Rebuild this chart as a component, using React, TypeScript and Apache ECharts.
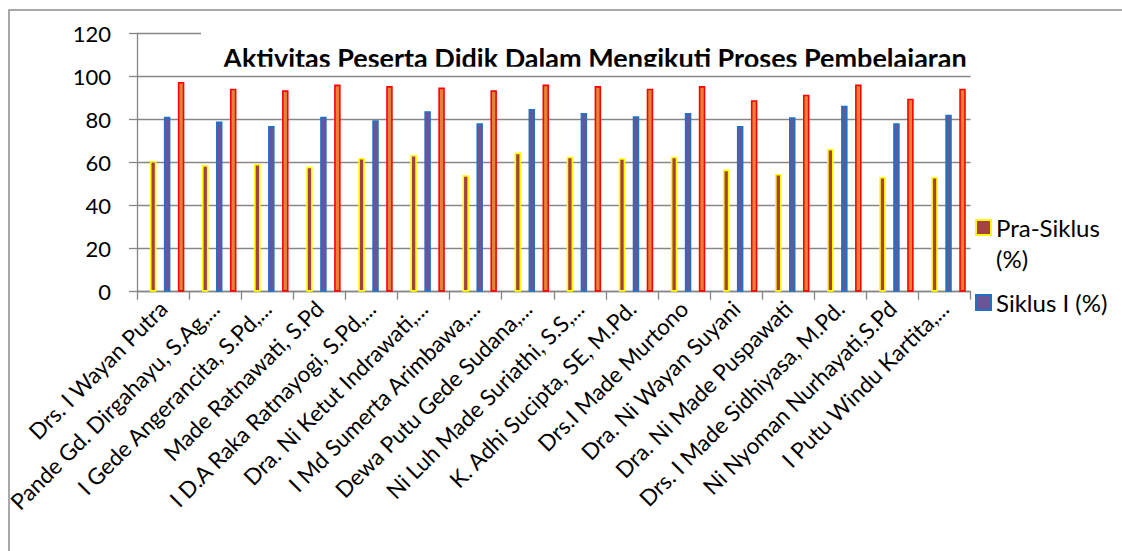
import React, { useEffect, useRef } from "react";
import * as echarts from "echarts";

const categories = [
  "Drs. I Wayan Putra",
  "Pande Gd. Dirgahayu, S.Ag,...",
  "I Gede Angerancita, S.Pd,...",
  "Made Ratnawati, S.Pd",
  "I D.A Raka Ratnayogi, S.Pd,...",
  "Dra. Ni Ketut Indrawati,...",
  "I Md Sumerta Arimbawa,...",
  "Dewa Putu Gede Sudana,...",
  "Ni Luh Made Suriathi, S.S,...",
  "K. Adhi Sucipta, SE, M.Pd.",
  "Drs.I Made Murtono",
  "Dra. Ni Wayan Suyani",
  "Dra. Ni Made Puspawati",
  "Drs. I Made Sidhiyasa, M.Pd.",
  "Ni Nyoman Nurhayati,S.Pd",
  "I Putu Windu Kartita,...",
];

const praSiklus = [60.7, 58.8, 59.3, 58.1, 62.1, 63.5, 54.1, 64.6, 62.7, 62.0, 62.7, 56.7, 54.7, 66.3, 53.3, 53.3];
const siklus1 = [81.3, 79.0, 77.0, 81.3, 79.6, 83.8, 78.2, 84.9, 83.0, 81.5, 83.0, 77.0, 81.0, 86.3, 78.2, 82.2];
const siklus2 = [97.4, 94.3, 93.5, 96.2, 95.5, 94.8, 93.5, 96.2, 95.5, 94.3, 95.5, 88.9, 91.5, 96.2, 89.6, 94.3];

const seriesNames = ["Pra-Siklus (%)", "Siklus I (%)", "Siklus II (%)"];
const yTicks = { min: 0, max: 120, interval: 20 };
const titleText = "Aktivitas Peserta Didik Dalam Mengikuti Proses Pembelajaran";

const FONT = "Lato";
const GRID_COLOR = "#868686";

export default function App() {
  const ref = useRef<HTMLDivElement>(null);

  useEffect(() => {
    document.body.style.margin = "0";
    if (!ref.current) return;
    const chart = echarts.init(ref.current, null, { renderer: "svg" });
    const barW = 6.5;
    const gap = "115%";
    const legendText = { fontSize: 24, lineHeight: 31, color: "#000", fontFamily: FONT };
    const option = {
      animation: false,
      backgroundColor: "#ffffff",
      textStyle: { fontFamily: FONT },
      grid: {
        left: 137,
        top: 33.3,
        right: 151.5,
        bottom: 259.3,
        containLabel: false,
        outerBoundsMode: "none",
      },
      xAxis: {
        type: "category",
        data: categories,
        axisLine: { show: true, lineStyle: { color: GRID_COLOR, width: 1.3 } },
        axisTick: { show: true, length: 8, interval: 0, lineStyle: { color: GRID_COLOR, width: 1.3 } },
        axisLabel: {
          interval: 0,
          rotate: 45,
          fontSize: 22.5,
          color: "#000",
          fontFamily: FONT,
          margin: 13,
        },
      },
      yAxis: {
        type: "value",
        min: yTicks.min,
        max: yTicks.max,
        interval: yTicks.interval,
        axisLine: { show: true, lineStyle: { color: GRID_COLOR, width: 1.3 } },
        axisTick: { show: true, length: 8, lineStyle: { color: GRID_COLOR, width: 1.3 } },
        splitLine: { show: true, lineStyle: { color: GRID_COLOR, width: 1.3 } },
        axisLabel: { fontSize: 22, color: "#000", fontFamily: FONT, margin: 26 },
      },
      legend: [
        {
          orient: "vertical",
          left: 970,
          top: 176,
          itemWidth: 15,
          itemHeight: 15,
          icon: "rect",
          selectedMode: false,
          formatter: () => "\nPra-Siklus\n(%)",
          textStyle: legendText,
          data: [seriesNames[0]],
        },
        {
          orient: "vertical",
          left: 970,
          top: 282,
          itemWidth: 15,
          itemHeight: 15,
          icon: "rect",
          selectedMode: false,
          textStyle: legendText,
          data: [seriesNames[1]],
        },
      ],
      graphic: [
        {
          type: "rect",
          z: 100,
          silent: true,
          shape: { x: 9, y: 10, width: 1300, height: 700 },
          style: { fill: "none", stroke: "#8c8c8c", lineWidth: 1.5 },
        },
        {
          type: "rect",
          z: 101,
          silent: true,
          shape: { x: 201, y: 27, width: 790, height: 40 },
          style: { fill: "#ffffff" },
        },
        {
          type: "text",
          z: 102,
          silent: true,
          x: 595,
          y: 57,
          style: {
            text: titleText,
            fill: "#000",
            font: `bold 27px ${FONT}`,
            textAlign: "center",
            textVerticalAlign: "middle",
          },
        },
        {
          type: "rect",
          z: 103,
          silent: true,
          shape: { x: 201, y: 66.7, width: 775, height: 7.5 },
          style: { fill: "#ffffff" },
        },
      ],
      series: [
        {
          name: "",
          type: "bar",
          data: [],
          barWidth: 3.8,
          barGap: gap,
          silent: true,
        },
        {
          name: seriesNames[0],
          type: "bar",
          data: praSiklus,
          barWidth: barW,
          barGap: gap,
          itemStyle: { color: "#A5413E", borderColor: "#FFFF00", borderWidth: 1.6 },
        },
        {
          name: seriesNames[1],
          type: "bar",
          data: siklus1,
          barWidth: barW,
          barGap: gap,
          itemStyle: { color: "#6A5597", borderColor: "#1F72C6", borderWidth: 1.6 },
        },
        {
          name: seriesNames[2],
          type: "bar",
          data: siklus2,
          barWidth: barW,
          barGap: gap,
          itemStyle: { color: "#E0843A", borderColor: "#FF0000", borderWidth: 1.6 },
        },
      ],
    };
    chart.setOption(option as any);
    return () => chart.dispose();
  }, []);

  return <div ref={ref} style={{ width: 1122, height: 551 }} />;
}
